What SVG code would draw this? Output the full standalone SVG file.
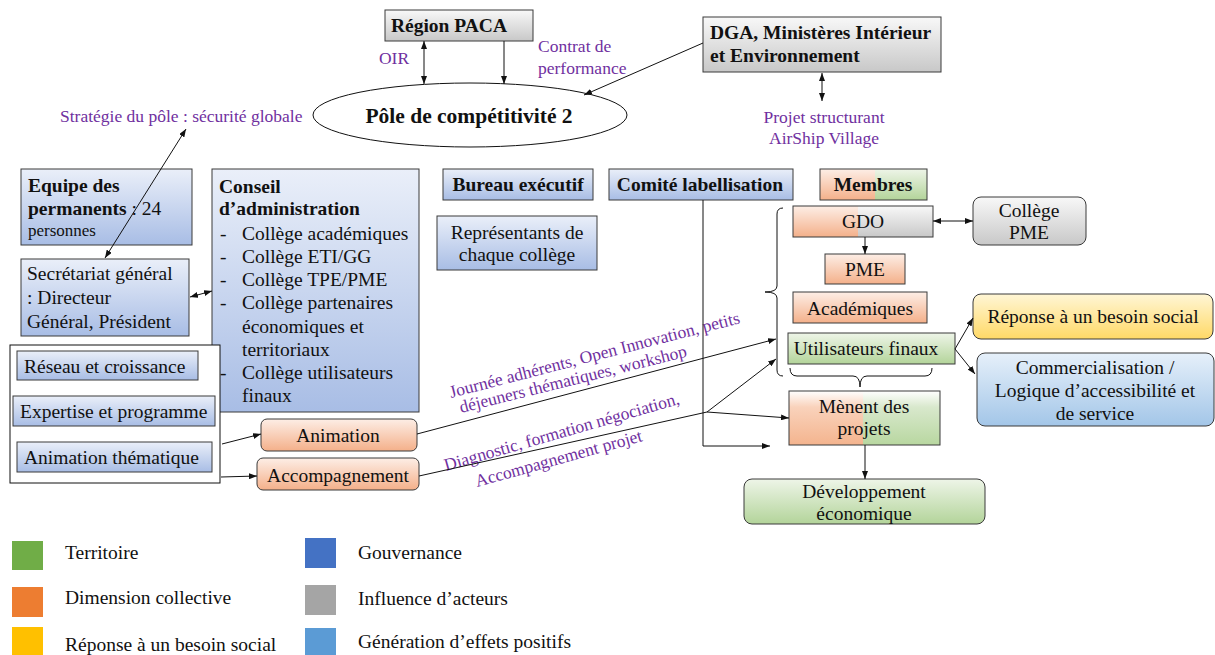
<svg xmlns="http://www.w3.org/2000/svg" width="1215" height="655" viewBox="0 0 1215 655">
<style>
text{font-family:"Liberation Serif","Times New Roman",serif;font-size:19.5px;fill:#111}
.b{font-weight:bold}
.c{text-anchor:middle}
.p{fill:#7030A0;font-size:17.5px}
.box{stroke:#3a3a3a;stroke-width:1}
.ln{stroke:#111;stroke-width:1;fill:none}
</style>
<defs>
<linearGradient id="gBlue" x1="0" y1="0" x2="0" y2="1"><stop offset="0" stop-color="#eaeff9"/><stop offset="1" stop-color="#a8bde5"/></linearGradient>
<linearGradient id="gOrange" x1="0" y1="0" x2="0" y2="1"><stop offset="0" stop-color="#fdeee6"/><stop offset="1" stop-color="#f4b08a"/></linearGradient>
<linearGradient id="gOrange2" x1="0" y1="0" x2="0" y2="1"><stop offset="0" stop-color="#ffffff"/><stop offset="0.3" stop-color="#f9d2bb"/><stop offset="1" stop-color="#f4b48e"/></linearGradient>
<linearGradient id="gGray" x1="0" y1="0" x2="0" y2="1"><stop offset="0" stop-color="#f8f8f8"/><stop offset="1" stop-color="#c8c8c8"/></linearGradient>
<linearGradient id="gGreen" x1="0" y1="0" x2="0" y2="1"><stop offset="0" stop-color="#eef5e8"/><stop offset="1" stop-color="#b3d49a"/></linearGradient>
<linearGradient id="gGreen2" x1="0" y1="0" x2="0" y2="1"><stop offset="0" stop-color="#ffffff"/><stop offset="0.3" stop-color="#d8e8cc"/><stop offset="1" stop-color="#b8d7a0"/></linearGradient>
<linearGradient id="gYellow" x1="0" y1="0" x2="0" y2="1"><stop offset="0" stop-color="#fff6d6"/><stop offset="1" stop-color="#ffd966"/></linearGradient>
<linearGradient id="gLblue" x1="0" y1="0" x2="0" y2="1"><stop offset="0" stop-color="#e6f0fa"/><stop offset="1" stop-color="#a3c6e8"/></linearGradient>
<marker id="ar" viewBox="0 0 8 6" refX="8" refY="3" markerWidth="8" markerHeight="6" markerUnits="userSpaceOnUse" orient="auto-start-reverse"><path d="M0,0 L8,3 L0,6 z" fill="#111"/></marker>
</defs>

<g id="region-paca">
<rect class="box" x="385" y="10" width="148" height="31" fill="url(#gGray)"/>
<text class="b c" x="449" y="32">Région PACA</text>
</g>
<g id="dga">
<rect class="box" x="703" y="17" width="238" height="55" fill="url(#gGray)"/>
<text class="b" x="710" y="39">DGA, Ministères Intérieur</text>
<text class="b" x="710" y="62">et Environnement</text>
</g>
<g id="pole">
<ellipse cx="470" cy="115" rx="157" ry="32" fill="#fff" stroke="#111" stroke-width="1"/>
<text class="b c" x="469" y="123" style="font-size:21.5px">Pôle de compétitivité 2</text>
</g>

<g id="labels">
<text class="p c" x="394" y="64">OIR</text>
<text class="p" x="538" y="52">Contrat de</text>
<text class="p" x="538" y="74">performance</text>
<text class="p" x="60" y="122">Stratégie du pôle : sécurité globale</text>
<text class="p c" x="824" y="123">Projet structurant</text>
<text class="p c" x="824" y="144">AirShip Village</text>
<text class="p" transform="translate(451,398) rotate(-14.5)">Journée adhérents, Open Innovation, petits</text>
<text class="p" transform="translate(461,413) rotate(-14)">déjeuners thématiques, workshop</text>
<text class="p" transform="translate(446,471) rotate(-16)">Diagnostic, formation négociation,</text>
<text class="p" transform="translate(477,487) rotate(-15.5)">Accompagnement projet</text>
</g>

<g id="equipe">
<rect class="box" x="21" y="169" width="171" height="76" fill="url(#gBlue)"/>
<text class="b" x="28" y="192">Equipe des</text>
<text x="28" y="215"><tspan class="b">permanents</tspan> : 24</text>
<text x="28" y="236" style="font-size:17px">personnes</text>
</g>
<g id="secretariat">
<rect class="box" x="21" y="259" width="168" height="77" fill="url(#gBlue)"/>
<text x="27" y="280">Secrétariat général</text>
<text x="27" y="304">: Directeur</text>
<text x="27" y="328">Général, Président</text>
</g>
<g id="conseil">
<rect class="box" x="212" y="169" width="207" height="243" fill="url(#gBlue)"/>
<text class="b" x="219" y="193">Conseil</text>
<text class="b" x="219" y="215">d’administration</text>
<text x="220" y="240">-</text><text x="242" y="240">Collège académiques</text>
<text x="220" y="263">-</text><text x="242" y="263">Collège ETI/GG</text>
<text x="220" y="286">-</text><text x="242" y="286">Collège TPE/PME</text>
<text x="220" y="309">-</text><text x="242" y="309">Collège partenaires</text>
<text x="242" y="333">économiques et</text>
<text x="242" y="356">territoriaux</text>
<text x="220" y="379">-</text><text x="242" y="379">Collège utilisateurs</text>
<text x="242" y="402">finaux</text>
</g>
<g id="frame">
<rect x="10" y="345" width="210" height="138" fill="#fff" stroke="#111" stroke-width="1"/>
</g>
<g id="reseau">
<rect class="box" x="17" y="351" width="181" height="29" fill="url(#gBlue)"/>
<text x="24" y="373">Réseau et croissance</text>
</g>
<g id="expertise">
<rect class="box" x="13" y="396" width="202" height="30" fill="url(#gBlue)"/>
<text x="20" y="418">Expertise et programme</text>
</g>
<g id="animation-thematique">
<rect class="box" x="17" y="442" width="195" height="30" fill="url(#gBlue)"/>
<text x="24" y="464">Animation thématique</text>
</g>
<g id="animation">
<rect class="box" x="261" y="419" width="156" height="32" rx="6" fill="url(#gOrange)"/>
<text class="c" x="338" y="442">Animation</text>
</g>
<g id="accompagnement">
<rect class="box" x="257" y="458" width="162" height="32" rx="6" fill="url(#gOrange)"/>
<text class="c" x="338" y="482">Accompagnement</text>
</g>
<g id="bureau">
<rect class="box" x="443" y="169" width="150" height="31" fill="url(#gBlue)"/>
<text class="b c" x="518" y="191">Bureau exécutif</text>
</g>
<g id="representants">
<rect class="box" x="437" y="216" width="160" height="54" fill="url(#gBlue)"/>
<text class="c" x="517" y="239">Représentants de</text>
<text class="c" x="517" y="261">chaque collège</text>
</g>
<g id="comite">
<rect class="box" x="609" y="169" width="184" height="31" fill="url(#gBlue)"/>
<text class="b c" x="700" y="191">Comité labellisation</text>
</g>
<g id="membres">
<rect x="820" y="169" width="55" height="31" fill="url(#gOrange)"/>
<rect x="875" y="169" width="52" height="31" fill="url(#gGreen)"/>
<rect class="box" x="820" y="169" width="107" height="31" fill="none"/>
<text class="b c" x="873" y="191">Membres</text>
</g>
<g id="gdo">
<rect x="793" y="206" width="65" height="31" fill="url(#gOrange)"/>
<rect x="858" y="206" width="75" height="31" fill="url(#gGray)"/>
<rect class="box" x="793" y="206" width="140" height="31" fill="none"/>
<text class="c" x="863" y="228">GDO</text>
</g>
<g id="pme">
<rect class="box" x="825" y="254" width="80" height="30" fill="url(#gOrange)"/>
<text class="c" x="865" y="276">PME</text>
</g>
<g id="academiques">
<rect class="box" x="793" y="292" width="134" height="31" fill="url(#gOrange)"/>
<text class="c" x="860" y="315">Académiques</text>
</g>
<g id="utilisateurs">
<rect class="box" x="788" y="333" width="167" height="31" fill="url(#gGreen)"/>
<text class="c" x="866" y="355">Utilisateurs finaux</text>
</g>
<g id="college-pme">
<rect class="box" x="973" y="197" width="113" height="48" rx="8" fill="url(#gGray)"/>
<text class="c" x="1029" y="217">Collège</text>
<text class="c" x="1029" y="239">PME</text>
</g>
<g id="reponse">
<rect class="box" x="973" y="294" width="240" height="45" rx="8" fill="url(#gYellow)"/>
<text class="c" x="1093" y="323">Réponse à un besoin social</text>
</g>
<g id="commercialisation">
<rect class="box" x="977" y="353" width="237" height="73" rx="8" fill="url(#gLblue)"/>
<text class="c" x="1095" y="374">Commercialisation /</text>
<text class="c" x="1095" y="397">Logique d’accessibilité et</text>
<text class="c" x="1095" y="420">de service</text>
</g>
<g id="menent">
<rect x="789" y="391" width="74" height="54" fill="url(#gOrange2)"/>
<rect x="863" y="391" width="77" height="54" fill="url(#gGreen2)"/>
<rect class="box" x="789" y="391" width="151" height="54" fill="none"/>
<text class="c" x="864" y="413">Mènent des</text>
<text class="c" x="864" y="435">projets</text>
</g>
<g id="developpement">
<rect class="box" x="744" y="479" width="241" height="45" rx="8" fill="url(#gGreen)"/>
<text class="c" x="864" y="498">Développement</text>
<text class="c" x="864" y="520">économique</text>
</g>

<g id="connectors">
<line class="ln" x1="424" y1="41" x2="424" y2="84" marker-start="url(#ar)" marker-end="url(#ar)"/>
<line class="ln" x1="504" y1="41" x2="504" y2="84" marker-end="url(#ar)"/>
<line class="ln" x1="703" y1="43" x2="584" y2="95" marker-end="url(#ar)"/>
<line class="ln" x1="822" y1="73" x2="822" y2="101" marker-start="url(#ar)" marker-end="url(#ar)"/>
<line class="ln" x1="186" y1="129" x2="105" y2="258" marker-start="url(#ar)" marker-end="url(#ar)"/>
<line class="ln" x1="190" y1="297" x2="212" y2="291" marker-start="url(#ar)" marker-end="url(#ar)"/>
<line class="ln" x1="222" y1="444" x2="261" y2="434" marker-end="url(#ar)"/>
<line class="ln" x1="221" y1="477" x2="257" y2="476" marker-end="url(#ar)"/>
<line class="ln" x1="417" y1="434" x2="776" y2="339" marker-end="url(#ar)"/>
<polyline class="ln" points="419,476 707,412"/>
<line class="ln" x1="707" y1="412" x2="776" y2="359" marker-end="url(#ar)"/>
<line class="ln" x1="707" y1="412" x2="789" y2="418" marker-end="url(#ar)"/>
<polyline class="ln" points="703,200 703,446 770,446" marker-end="url(#ar)"/>
<path class="ln" d="M783,208 Q777,208 777,214 L777,286 Q777,292 765,292 Q777,292 777,298 L777,370 Q777,376 783,376"/>
<path class="ln" d="M790,368 Q790,376 797,376 L853,376 Q860,376 860,387 Q860,376 867,376 L925,376 Q932,376 932,368"/>
<line class="ln" x1="865" y1="237" x2="865" y2="254" marker-end="url(#ar)"/>
<line class="ln" x1="933" y1="221" x2="973" y2="221" marker-start="url(#ar)" marker-end="url(#ar)"/>
<line class="ln" x1="955" y1="349" x2="973" y2="318" marker-end="url(#ar)"/>
<line class="ln" x1="955" y1="349" x2="975" y2="374" marker-end="url(#ar)"/>
<line class="ln" x1="865" y1="445" x2="865" y2="479" marker-end="url(#ar)"/>
</g>

<g id="legend">
<rect x="12" y="541" width="31" height="29" fill="#70AD47"/>
<text x="65" y="559">Territoire</text>
<rect x="12" y="587" width="31" height="30" fill="#ED7D31"/>
<text x="65" y="604">Dimension collective</text>
<rect x="12" y="627" width="31" height="28" fill="#FFC000"/>
<text x="65" y="651">Réponse à un besoin social</text>
<rect x="305" y="538" width="31" height="30" fill="#4472C4"/>
<text x="358" y="559">Gouvernance</text>
<rect x="305" y="585" width="31" height="30" fill="#A5A5A5"/>
<text x="358" y="605">Influence d’acteurs</text>
<rect x="305" y="628" width="31" height="28" fill="#5B9BD5"/>
<text x="358" y="648">Génération d’effets positifs</text>
</g>
</svg>
